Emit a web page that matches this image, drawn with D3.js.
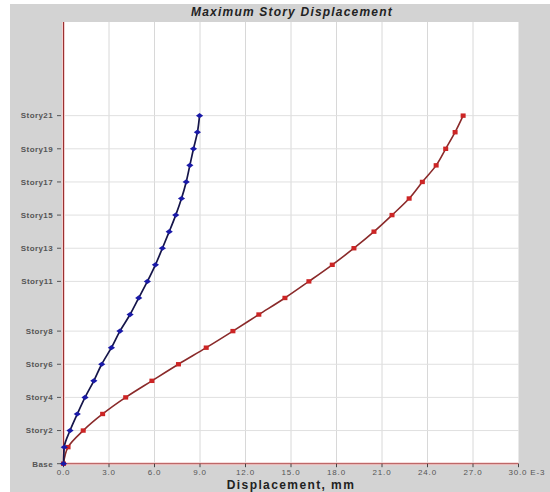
<!DOCTYPE html>
<html>
<head>
<meta charset="utf-8">
<script src="https://cdn.jsdelivr.net/npm/d3@7"></script>
<style>
  body { margin: 0; background: #fff; }
  svg { display: block; font-family: "Liberation Sans", Arial, sans-serif; }
</style>
</head>
<body>
<svg id="chart" width="550" height="492"></svg>
<script>
// story names, bottom to top
let stories = ["Base", "Story1", "Story2", "Story3", "Story4", "Story5", "Story6", "Story7",
  "Story8", "Story9", "Story10", "Story11", "Story12", "Story13", "Story14", "Story15",
  "Story16", "Story17", "Story18", "Story19", "Story20", "Story21"];
// stories that get a label + horizontal grid line
let labelStories = ["Base", "Story2", "Story4", "Story6", "Story8", "Story11", "Story13",
  "Story15", "Story17", "Story19", "Story21"];
// displacement values (x 1e-3 mm)
let blueDisp = [0, 0.05, 0.43, 0.91, 1.42, 2.0, 2.52, 3.16, 3.72, 4.39, 4.96, 5.53, 6.06,
  6.52, 6.97, 7.4, 7.78, 8.09, 8.33, 8.57, 8.83, 8.97];
let redDisp = [0, 0.3, 1.3, 2.58, 4.1, 5.83, 7.58, 9.41, 11.17, 12.88, 14.6, 16.18, 17.72,
  19.15, 20.47, 21.66, 22.79, 23.66, 24.57, 25.2, 25.82, 26.35];
let xTicks = [0, 3, 6, 9, 12, 15, 18, 21, 24, 27, 30];

let svg = d3.select("#chart");

let plotLeft = 63.5, plotRight = 518.5, plotTop = 22, plotBottom = 463.7;

let xScale = d3.scaleLinear().domain([0, 30]).range([plotLeft, plotRight]);
let yScale = d3.scaleLinear().domain([0, 26.65]).range([plotBottom, plotTop]);
let level = name => stories.indexOf(name);

// grey background
svg.append("rect").attr("x", 10).attr("y", 4).attr("width", 540).attr("height", 488)
  .attr("fill", "#d3d3d3");

// white plot area
svg.append("rect")
  .attr("x", plotLeft).attr("y", plotTop)
  .attr("width", plotRight - plotLeft).attr("height", plotBottom - plotTop)
  .attr("fill", "#fff");

// grid
svg.append("g").selectAll("line").data(xTicks.filter(d => d > 0 && d < 30)).enter()
  .append("line")
  .attr("x1", d => xScale(d)).attr("x2", d => xScale(d))
  .attr("y1", plotTop).attr("y2", plotBottom)
  .attr("stroke", "#d8d8d8").attr("stroke-width", 1);

svg.append("g").selectAll("line").data(labelStories.filter(d => d != "Base")).enter()
  .append("line")
  .attr("x1", plotLeft).attr("x2", plotRight)
  .attr("y1", d => yScale(level(d))).attr("y2", d => yScale(level(d)))
  .attr("stroke", "#e0e0e0").attr("stroke-width", 1);

// axis lines (reddish with a pink glow)
svg.append("line").attr("x1", plotLeft).attr("x2", plotLeft).attr("y1", plotTop).attr("y2", plotBottom)
  .attr("stroke", "#f3d0d0").attr("stroke-width", 3);
svg.append("line").attr("x1", plotLeft).attr("x2", plotRight).attr("y1", plotBottom).attr("y2", plotBottom)
  .attr("stroke", "#f3d0d0").attr("stroke-width", 3);
svg.append("line").attr("x1", plotLeft).attr("x2", plotLeft).attr("y1", plotTop).attr("y2", plotBottom)
  .attr("stroke", "#9a3030").attr("stroke-width", 1);
svg.append("line").attr("x1", plotLeft).attr("x2", plotRight).attr("y1", plotBottom).attr("y2", plotBottom)
  .attr("stroke", "#b05050").attr("stroke-width", 1);

// x ticks + labels
let xt = svg.append("g").selectAll("g").data(xTicks).enter().append("g")
  .attr("transform", d => "translate(" + xScale(d) + ",0)");
xt.append("line").attr("y1", plotBottom).attr("y2", plotBottom + 3.5)
  .attr("stroke", "#444").attr("stroke-width", 1);
xt.append("text")
  .attr("y", 475)
  .attr("text-anchor", d => d == 30 ? "start" : "middle")
  .attr("x", d => d == 30 ? -10 : 0)
  .attr("font-size", "8px").attr("letter-spacing", "0.8px").attr("fill", "#555")
  .text(d => d3.format(".1f")(d) + (d == 30 ? " E-3" : ""));

// y ticks + labels
let yt = svg.append("g").selectAll("g").data(labelStories).enter().append("g")
  .attr("transform", d => "translate(0," + yScale(level(d)) + ")");
yt.append("line").attr("x1", 57).attr("x2", 61)
  .attr("stroke", "#555").attr("stroke-width", 1);
yt.append("text")
  .attr("x", 53).attr("dy", "0.35em").attr("text-anchor", "end")
  .attr("font-size", "8px").attr("font-weight", "bold").attr("letter-spacing", "0.4px")
  .attr("fill", "#555")
  .text(d => d);

// series
let lineGen = d3.line()
  .x(d => xScale(d))
  .y((d, i) => yScale(i))
  .curve(d3.curveMonotoneY);

svg.append("path").datum(redDisp).attr("d", lineGen)
  .attr("fill", "none").attr("stroke", "#8a2a2a").attr("stroke-width", 1.6);
svg.append("g").selectAll("rect").data(redDisp).enter().append("rect")
  .attr("x", d => xScale(d) - 2.5).attr("y", (d, i) => yScale(i) - 2.2)
  .attr("width", 5).attr("height", 4.4)
  .attr("fill", "#cc2525");

svg.append("path").datum(blueDisp).attr("d", lineGen)
  .attr("fill", "none").attr("stroke", "#15154a").attr("stroke-width", 1.7);
svg.append("g").selectAll("path.mk").data(blueDisp).enter().append("path")
  .attr("class", "mk")
  .attr("transform", (d, i) => "translate(" + xScale(d) + "," + yScale(i) + ")")
  .attr("d", "M-3.6,0L0,-2.6L3.6,0L0,2.6Z")
  .attr("fill", "#1a1aa8");

// title
svg.append("text")
  .attr("x", 292).attr("y", 16).attr("text-anchor", "middle")
  .attr("font-size", "12px").attr("font-weight", "bold").attr("font-style", "italic")
  .attr("letter-spacing", "1.2px").attr("fill", "#222")
  .text("Maximum Story Displacement");

// x axis title
svg.append("text")
  .attr("x", 291).attr("y", 488.5).attr("text-anchor", "middle")
  .attr("font-size", "12px").attr("font-weight", "bold")
  .attr("letter-spacing", "1.4px").attr("fill", "#222")
  .text("Displacement, mm");
</script>
</body>
</html>
